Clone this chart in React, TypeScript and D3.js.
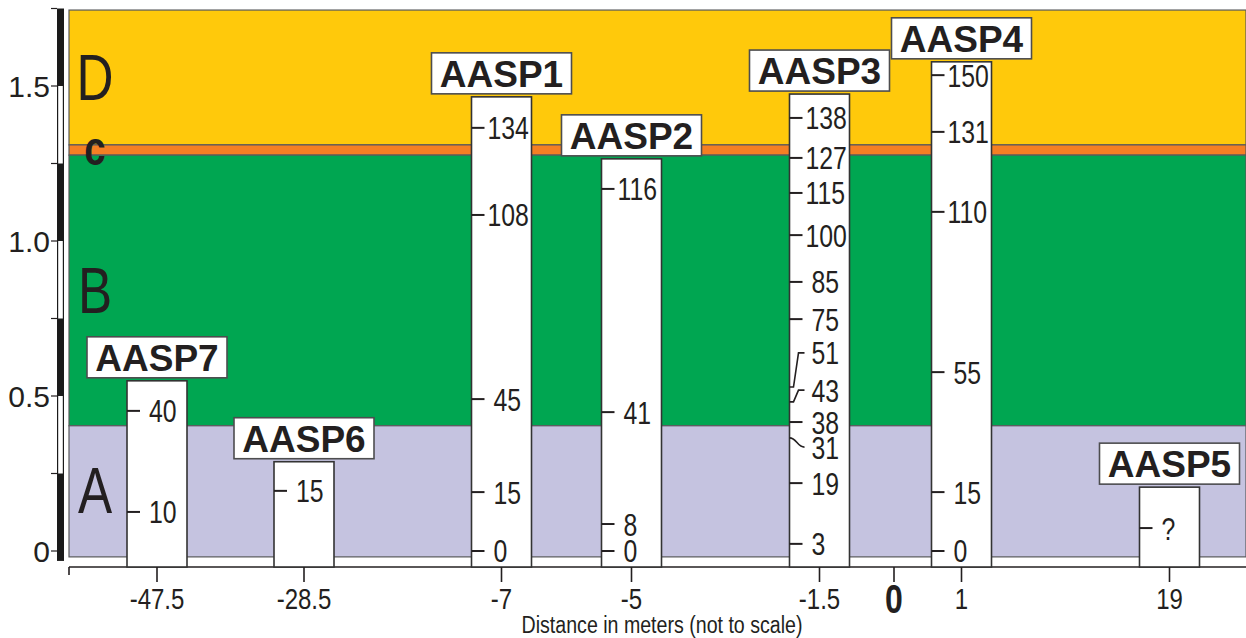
import React, { useRef, useEffect } from "react";
import * as d3 from "d3";

// stratigraphic units (heights in m)
const layerNames = ["D", "c", "B", "A"];
const layerTops = [1.745, 1.31, 1.277, 0.404];
const layerBottoms = [1.31, 1.277, 0.404, -0.019];
const layerColors = ["#FFC90B", "#F47F24", "#00A651", "#C5C3E0"];

// sampling profiles
const siteNames = ["AASP7", "AASP6", "AASP1", "AASP2", "AASP3", "AASP4", "AASP5"];
const siteDistances = [-47.5, -28.5, -7, -5, -1.5, 1, 19];
const siteTops = [0.549, 0.288, 1.465, 1.265, 1.474, 1.578, 0.206];
const sampleLabels = [
  ["40", "10"],
  ["15"],
  ["134", "108", "45", "15", "0"],
  ["116", "41", "8", "0"],
  ["138", "127", "115", "100", "85", "75", "51", "43", "38", "31", "19", "3"],
  ["150", "131", "110", "55", "15", "0"],
  ["?"],
];
const sampleHeights = [
  [0.452, 0.126],
  [0.194],
  [1.365, 1.084, 0.49, 0.19, 0],
  [1.168, 0.448, 0.087, 0],
  [1.397, 1.268, 1.155, 1.019, 0.868, 0.748, 0.529, 0.481, 0.416, 0.365, 0.219, 0.023],
  [1.535, 1.352, 1.094, 0.577, 0.19, 0],
  [0.074],
];
// labels written away from their sample position (AASP3)
const shiftedLabels = ["51", "43", "31"];
const shiftedLabelHeights = [0.639, 0.519, 0.335];

const xTicks = [-47.5, -28.5, -7, -5, -1.5, 0, 1, 19];
const yLabelTicks = [0, 0.5, 1.0, 1.5];
const yScaleTicks = [0, 0.25, 0.5, 0.75, 1.0, 1.25, 1.5, 1.75];

const W = 1246;
const H = 638;
const SANS = '"Liberation Sans", Arial, Helvetica, sans-serif';
const INK = "#231F20";
const EDGE = "#4D4D4F";
const SQUEEZE = 0.8; // condensed look

type Sel = d3.Selection<any, unknown, null, undefined>;

// condensed text: Liberation Sans squeezed horizontally
function narrowText(
  parent: Sel,
  x: number,
  y: number,
  str: string,
  size: number,
  anchor = "start",
  weight = 400
) {
  parent
    .append("g")
    .attr("transform", `translate(${x},${y}) scale(${SQUEEZE},1)`)
    .append("text")
    .attr("text-anchor", anchor)
    .attr("dominant-baseline", "central")
    .attr("font-family", SANS)
    .attr("font-size", size)
    .attr("font-weight", weight)
    .attr("fill", INK)
    .text(str);
}

const App: React.FC = () => {
  const svgRef = useRef<SVGSVGElement | null>(null);

  useEffect(() => {
    if (!svgRef.current) return;
    const svg = d3.select(svgRef.current) as unknown as Sel;
    svg.selectAll("*").remove();

    const left = 69;
    const right = W;
    const axisY = 567;

    const y = d3.scaleLinear().domain([0, 1.5]).range([551, 86]);
    // not to scale: piecewise positions along the section
    const x = d3
      .scaleLinear()
      .domain(xTicks)
      .range([157, 304, 501.5, 631.5, 819.5, 894, 961.5, 1169.5]);

    /* background units */
    layerNames.forEach((name, i) => {
      svg
        .append("rect")
        .attr("x", left)
        .attr("y", y(layerTops[i]))
        .attr("width", right - left)
        .attr("height", y(layerBottoms[i]) - y(layerTops[i]))
        .attr("fill", layerColors[i])
        .attr("stroke", "#58595B")
        .attr("stroke-width", 1.2);
    });

    layerNames.forEach((name, i) => {
      const mid = (y(layerTops[i]) + y(layerBottoms[i])) / 2;
      const small = name === "c";
      narrowText(svg, 95, small ? mid - 2 : mid, name, small ? 48 : 64, "middle", small ? 700 : 400);
    });

    /* left scale bar */
    const barX = 57;
    const barW = 7;
    svg
      .append("rect")
      .attr("x", barX)
      .attr("y", y(1.75))
      .attr("width", barW)
      .attr("height", y(-0.032) - y(1.75))
      .attr("fill", "#1a1a1a");
    [0.25, 0.75, 1.25].forEach((v) => {
      svg
        .append("rect")
        .attr("x", barX + 1.2)
        .attr("y", y(v + 0.25))
        .attr("width", barW - 2.4)
        .attr("height", y(v) - y(v + 0.25))
        .attr("fill", "#fff");
    });
    yScaleTicks.forEach((v) => {
      svg
        .append("line")
        .attr("x1", 51)
        .attr("x2", barX)
        .attr("y1", y(v))
        .attr("y2", y(v))
        .attr("stroke", INK)
        .attr("stroke-width", 1.2);
    });
    yLabelTicks.forEach((v) => {
      svg
        .append("text")
        .attr("x", 50)
        .attr("y", y(v))
        .attr("text-anchor", "end")
        .attr("dominant-baseline", "central")
        .attr("font-family", SANS)
        .attr("font-size", 30)
        .attr("fill", INK)
        .text(v === 0 ? "0" : v.toFixed(1));
    });

    /* x axis */
    svg
      .append("line")
      .attr("x1", left)
      .attr("x2", right)
      .attr("y1", axisY)
      .attr("y2", axisY)
      .attr("stroke", INK)
      .attr("stroke-width", 1.6);
    svg
      .append("line")
      .attr("x1", left)
      .attr("x2", left)
      .attr("y1", axisY)
      .attr("y2", axisY + 8)
      .attr("stroke", INK)
      .attr("stroke-width", 1.6);

    /* sampling columns */
    const colW = 60;
    siteNames.forEach((name, i) => {
      const cx = x(siteDistances[i]);
      const x0 = cx - colW / 2;
      const top = y(siteTops[i]);
      svg
        .append("rect")
        .attr("x", x0)
        .attr("y", top)
        .attr("width", colW)
        .attr("height", axisY - top)
        .attr("fill", "#fff")
        .attr("stroke", "#333")
        .attr("stroke-width", 1.6);

      sampleLabels[i].forEach((lab, j) => {
        const real = y(sampleHeights[i][j]);
        const k = shiftedLabels.indexOf(lab);
        const at = name === "AASP3" && k >= 0 ? y(shiftedLabelHeights[k]) : real;
        const g = svg.append("g");
        if (at === real) {
          g.append("line")
            .attr("x1", x0)
            .attr("x2", x0 + 13)
            .attr("y1", real)
            .attr("y2", real)
            .attr("stroke", INK)
            .attr("stroke-width", 2);
        } else if (at > real) {
          const p = d3.path();
          p.moveTo(x0, real);
          p.bezierCurveTo(x0 + 7, real, x0 + 8, at, x0 + 15, at);
          g.append("path").attr("d", p.toString()).attr("fill", "none").attr("stroke", INK).attr("stroke-width", 1.6);
        } else {
          const p = d3.path();
          p.moveTo(x0, real);
          p.lineTo(x0 + 4, real);
          p.lineTo(x0 + 9, at);
          p.lineTo(x0 + 15, at);
          g.append("path").attr("d", p.toString()).attr("fill", "none").attr("stroke", INK).attr("stroke-width", 1.6);
        }
        narrowText(g, x0 + (lab.length >= 3 ? 16 : 22), at + 1, lab, 31);
      });

      const bw = 140;
      const bh = 41;
      svg
        .append("rect")
        .attr("x", cx - bw / 2)
        .attr("y", top - 3 - bh)
        .attr("width", bw)
        .attr("height", bh)
        .attr("fill", "#fff")
        .attr("stroke", EDGE)
        .attr("stroke-width", 1.6);
      svg
        .append("text")
        .attr("x", cx)
        .attr("y", top - 3 - bh / 2 + 1)
        .attr("text-anchor", "middle")
        .attr("dominant-baseline", "central")
        .attr("font-family", SANS)
        .attr("font-weight", 700)
        .attr("font-size", 37)
        .attr("fill", INK)
        .text(name);
    });

    /* distance ticks */
    xTicks.forEach((d) => {
      svg
        .append("line")
        .attr("x1", x(d))
        .attr("x2", x(d))
        .attr("y1", axisY)
        .attr("y2", axisY + 15)
        .attr("stroke", INK)
        .attr("stroke-width", 1.6);
      narrowText(svg, x(d), 599, String(d), d === 0 ? 40 : 30, "middle", d === 0 ? 700 : 400);
    });

    narrowText(svg, 662, 625, "Distance in meters (not to scale)", 24.5, "middle");
  }, []);

  return (
    <div style={{ position: "absolute", left: 0, top: 0, width: W, height: H, background: "#fff" }}>
      <svg ref={svgRef} width={W} height={H} style={{ display: "block" }} />
    </div>
  );
};

export default App;
